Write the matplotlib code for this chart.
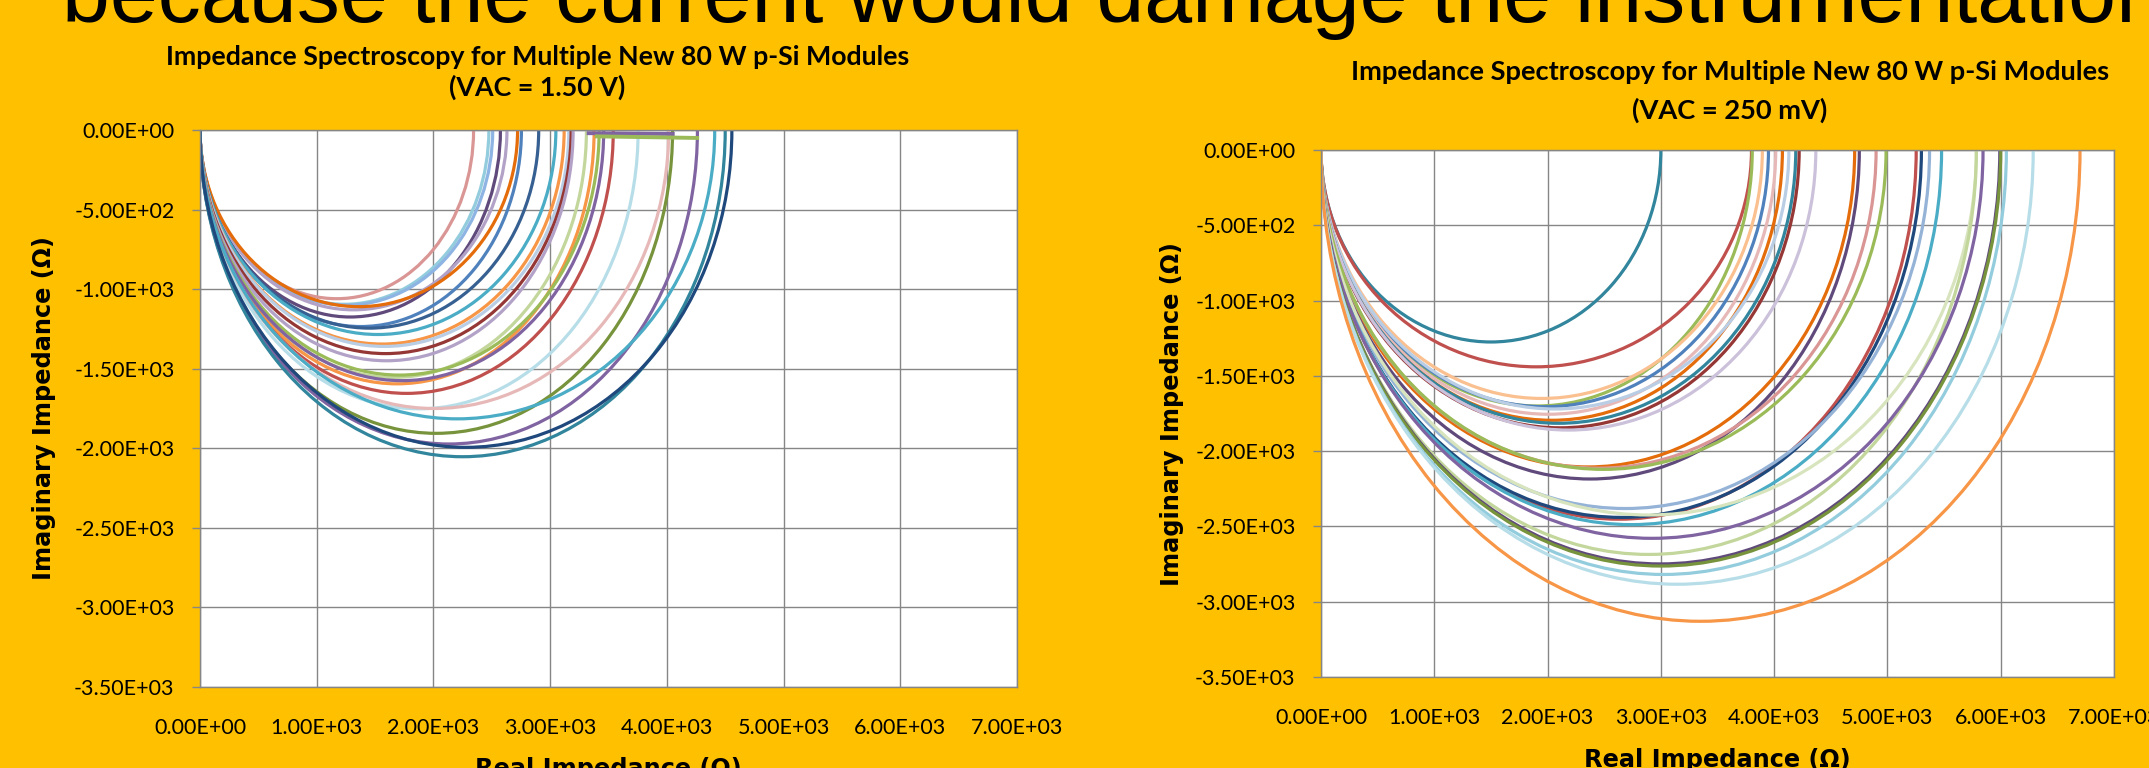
import matplotlib
matplotlib.use('Agg')
import matplotlib.pyplot as plt
from matplotlib.patches import Arc
from matplotlib.ticker import MultipleLocator, FuncFormatter

# Nyquist arcs: end of arc on real axis (ohm), depth of arc (ohm)
left_R = [2344, 2475, 2508, 2574, 2630, 2721, 2754, 2902, 3049, 3120, 3160, 3180, 3197,
          3311, 3377, 3420, 3459, 3541, 3754, 4016, 4049, 4262, 4410, 4500, 4557]
left_depth = [1060, 1095, 1100, 1175, 1130, 1110, 1235, 1245, 1285, 1345, 1360, 1405, 1450,
              1555, 1595, 1540, 1575, 1655, 1752, 1750, 1906, 1973, 1815, 2053, 1994]
left_colors = ['#D99694', '#93CDDD', '#8EB4E3', '#604A7B', '#B3A2C7', '#E46C0A', '#4F81BD',
               '#376092', '#4BACC6', '#F79646', '#B9CDE5', '#953735', '#B3A2C7',
               '#C3D69B', '#F79646', '#9BBB59', '#8064A2', '#C0504D', '#B7DEE8', '#E6B9B8',
               '#77933C', '#8064A2', '#4BACC6', '#31859C', '#1F497D']
# low frequency tails along the top of the left chart
left_tail_x = [[3330, 4050], [3400, 4260]]
left_tail_y = [[-20, -25], [-40, -50]]
left_tail_colors = ['#8064A2', '#9BBB59']

right_R = [3000, 3800, 3807, 3896, 3950, 4014, 4073, 4130, 4191, 4221, 4368,
           4711, 4752, 4900, 4988, 5254, 5300, 5372, 5478,
           5785, 5785, 5844, 5992, 6000, 6050, 6287, 6700]
right_depth = [1275, 1440, 1700, 1650, 1705, 1755, 1795, 1720, 1815, 1845, 1860,
               2105, 2185, 2113, 2121, 2452, 2440, 2381, 2488,
               2424, 2686, 2579, 2749, 2763, 2819, 2884, 3130]
right_colors = ['#31859C', '#C0504D', '#9BBB59', '#FAC090', '#4F81BD', '#E6B9B8', '#E46C0A',
                '#B9CDE5', '#31859C', '#953735', '#CCC1DA',
                '#E46C0A', '#604A7B', '#D99694', '#9BBB59', '#C0504D', '#1F497D', '#95B3D7',
                '#4BACC6', '#D7E4BD', '#C3D69B', '#8064A2', '#604A7B', '#77933C', '#93CDDD',
                '#B7DEE8', '#F79646']

x_ticks_step = 1000
y_ticks_step = 500

plt.rcParams['font.family'] = ['Lato', 'DejaVu Sans']

fig = plt.figure(figsize=(21.49, 7.68), dpi=100, facecolor='#FFC000')


def panel(rect, R, depth, colors, ylab_x, xlab_y):
    ax = fig.add_axes(rect)
    ax.set_facecolor('white')
    for r, d, c in zip(R, depth, colors):
        ax.add_patch(Arc((r / 2.0, 0), r, 2 * d, theta1=180, theta2=360,
                         color=c, lw=2.3))
    ax.set_xlim(0, 7000)
    ax.set_ylim(-3500, 0)
    ax.xaxis.set_major_locator(MultipleLocator(x_ticks_step))
    ax.yaxis.set_major_locator(MultipleLocator(y_ticks_step))
    fmt = FuncFormatter(lambda v, p: ('%.2E' % v).replace('-0.00E+00', '0.00E+00'))
    ax.xaxis.set_major_formatter(fmt)
    ax.yaxis.set_major_formatter(fmt)
    ax.grid(True, color='#868686', lw=1.0)
    ax.set_axisbelow(True)
    for s in ax.spines.values():
        s.set_color('#868686')
        s.set_linewidth(1.0)
    ax.tick_params(axis='y', length=5.8, width=1, color='#868686', pad=12.5, labelsize=15.5)
    ax.tick_params(axis='x', length=0, pad=22, labelsize=15.5)
    ax.set_ylabel('Imaginary Impedance (Ω)', fontfamily='DejaVu Sans', fontweight='bold',
                  fontsize=17.3, va='center')
    ax.yaxis.set_label_coords(ylab_x, 0.5)
    ax.set_xlabel('Real Impedance (Ω)', fontfamily='DejaVu Sans', fontweight='bold',
                  fontsize=17.3, va='top')
    ax.xaxis.set_label_coords(0.5, xlab_y)
    return ax


axL = panel([200 / 2149, 1 - 687 / 768, 817 / 2149, 557 / 768],
            left_R, left_depth, left_colors, -0.191, -0.1257)
for tx, ty, c in zip(left_tail_x, left_tail_y, left_tail_colors):
    axL.plot(tx, ty, color=c, lw=2.8)

axR = panel([1321 / 2149, 1 - 677 / 768, 793 / 2149, 527 / 768],
            right_R, right_depth, right_colors, -0.188, -0.1347)

# titles
fig.text(0.2500, 1 - 57 / 768, 'Impedance Spectroscopy for Multiple New 80 W p-Si Modules',
         ha='center', va='center', fontweight='bold', fontsize=19.3)
fig.text(0.2500, 1 - 87 / 768, '(VAC = 1.50 V)', ha='center', va='center',
         fontweight='bold', fontsize=19.3)
fig.text(0.805, 1 - 72 / 768, 'Impedance Spectroscopy for Multiple New 80 W p-Si Modules',
         ha='center', va='center', fontweight='bold', fontsize=19.6)
fig.text(0.805, 1 - 110 / 768, '(VAC = 250 mV)', ha='center', va='center',
         fontweight='bold', fontsize=19.6)

# slide text cut off at the top
fig.text(0.029, 1 - 22 / 768, 'because the current would damage the instrumentation',
         fontfamily='Liberation Sans', fontsize=62, ha='left', va='baseline')

fig.savefig('out.png', dpi=100, facecolor=fig.get_facecolor())
